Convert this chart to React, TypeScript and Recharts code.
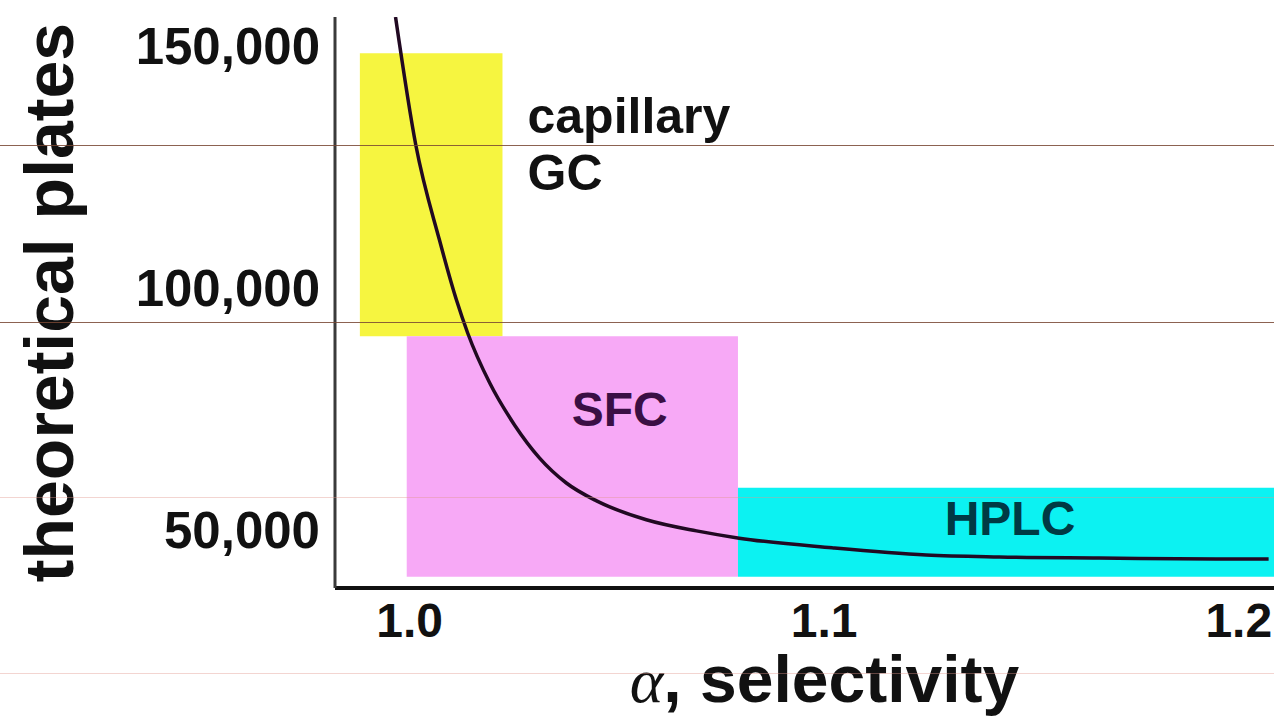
import React from "react";
import { ComposedChart, Line, XAxis, YAxis, ReferenceArea, Label } from "recharts";

// selectivity curve (alpha vs. required plates)
const selectivity = [0.9966, 1.0015, 1.0072, 1.0113, 1.014, 1.0193, 1.0253, 1.0313, 1.0378, 1.0451, 1.0571, 1.0692, 1.0795, 1.1019, 1.1246, 1.1422, 1.1663, 1.1945, 1.2072];
const plates = [156000, 129500, 109900, 97500, 90700, 80400, 71700, 64900, 59700, 56000, 52100, 49800, 48300, 46300, 44800, 44400, 44200, 44000, 44000];

// technique regions
const techniques = ["capillary GC", "SFC", "HPLC"];
const techAlphaFrom = [0.988, 0.9993, 1.0792];
const techAlphaTo = [1.0224, 1.0792, 1.2085];
const techPlatesFrom = [90000, 40300, 40300];
const techPlatesTo = [148500, 90000, 58700];

const xTicks = [1.0, 1.1, 1.2];
const yTicks = [50000, 100000, 150000];

const FONT = '"Liberation Sans", Arial, Helvetica, sans-serif';

const regionStyles = [
  { fill: "#f6f540", color: "#111111", anchor: "start", fx: 1, dx: 25, dy: 80, size: 50 },
  { fill: "#f7a9f6", color: "#3a0f44", anchor: "middle", fx: 0, dx: 213, dy: 90, size: 48 },
  { fill: "#0cf2f2", color: "#003a44", anchor: "middle", fx: 0.5, dx: 4, dy: 47, size: 48 },
];

// scanned ruling lines across the picture
const ruleLines = [
  { top: 145, color: "rgba(120,70,50,0.85)" },
  { top: 322, color: "rgba(120,70,50,0.85)" },
  { top: 497, color: "rgba(225,150,140,0.4)" },
  { top: 673, color: "rgba(225,150,140,0.4)" },
];

const data = selectivity.map((a, i) => ({ alpha: a, plates: plates[i] }));

const makeRegionLabel = (name: string, st: any) => (props: any) => {
  const vb = props.viewBox || { x: 0, y: 0, width: 0, height: 0 };
  const x = vb.x + vb.width * st.fx + st.dx;
  const y = vb.y + st.dy;
  const lines = name === "capillary GC" ? ["capillary", "GC"] : [name];
  return (
    <text x={x} y={y} textAnchor={st.anchor} fill={st.color} fontFamily={FONT} fontWeight="bold" fontSize={st.size}>
      {lines.map((l, i) => (
        <tspan key={i} x={x} dy={i === 0 ? 0 : 57}>
          {l}
        </tspan>
      ))}
    </text>
  );
};

const YTitle = (props: any) => {
  const vb = props.viewBox || { x: 0, y: 0, width: 0, height: 0 };
  const cx = vb.x + 73;
  const cy = vb.y + vb.height / 2;
  return (
    <text x={cx} y={cy} transform={`rotate(-90, ${cx}, ${cy})`} textAnchor="middle" fill="#111" fontFamily={FONT} fontWeight="bold" fontSize={68}>
      theoretical plates
    </text>
  );
};

const XTitle = (props: any) => {
  const vb = props.viewBox || { x: 0, y: 0, width: 0, height: 0 };
  const cx = vb.x + vb.width / 2 + 20;
  return (
    <text x={cx} y={vb.y + 114} textAnchor="middle" fill="#111" fontFamily={FONT} fontWeight="bold" fontSize={66}>
      <tspan fontFamily='"Liberation Serif", "DejaVu Serif", serif' fontStyle="italic" fontWeight="normal" fontSize={64}>α</tspan>
      <tspan>, selectivity</tspan>
    </text>
  );
};

const App = () => {
  return (
    <div style={{ position: "absolute", left: 0, top: 0, width: 1274, height: 717, background: "#fff" }}>
      <ComposedChart width={1274} height={717} data={data} margin={{ top: 17, right: 0, bottom: 0, left: 0 }}>
        {techniques.map((t, i) => (
          <ReferenceArea
            key={t}
            x1={techAlphaFrom[i]}
            x2={techAlphaTo[i]}
            y1={techPlatesFrom[i]}
            y2={techPlatesTo[i]}
            fill={regionStyles[i].fill}
            fillOpacity={1}
            stroke="none"
            ifOverflow="visible"
            label={makeRegionLabel(t, regionStyles[i])}
          />
        ))}
        <XAxis
          type="number"
          dataKey="alpha"
          domain={[0.982, 1.2085]}
          ticks={xTicks}
          tickFormatter={(v: number) => v.toFixed(1)}
          allowDataOverflow
          height={129}
          axisLine={{ stroke: "#111", strokeWidth: 4 }}
          tickLine={false}
          tickMargin={9}
          tick={{ fill: "#111", fontSize: 48, fontFamily: FONT, fontWeight: "bold" }}
        >
          <Label content={<XTitle />} />
        </XAxis>
        <YAxis
          type="number"
          domain={[38000, 156000]}
          ticks={yTicks}
          tickFormatter={(v: number) => v.toLocaleString("en-US")}
          allowDataOverflow
          width={335}
          axisLine={{ stroke: "#3a3a3a", strokeWidth: 3 }}
          tickLine={false}
          tickMargin={9}
          tick={{ fill: "#111", fontSize: 51, fontFamily: FONT, fontWeight: "bold" }}
        >
          <Label content={<YTitle />} />
        </YAxis>
        <Line
          type="monotone"
          dataKey="plates"
          stroke="#210922"
          strokeWidth={3.5}
          dot={false}
          isAnimationActive={false}
        />
      </ComposedChart>
      {ruleLines.map((r, i) => (
        <div
          key={i}
          style={{ position: "absolute", left: 0, top: r.top, width: 1274, height: 1, background: r.color, pointerEvents: "none" }}
        />
      ))}
    </div>
  );
};

export default App;
